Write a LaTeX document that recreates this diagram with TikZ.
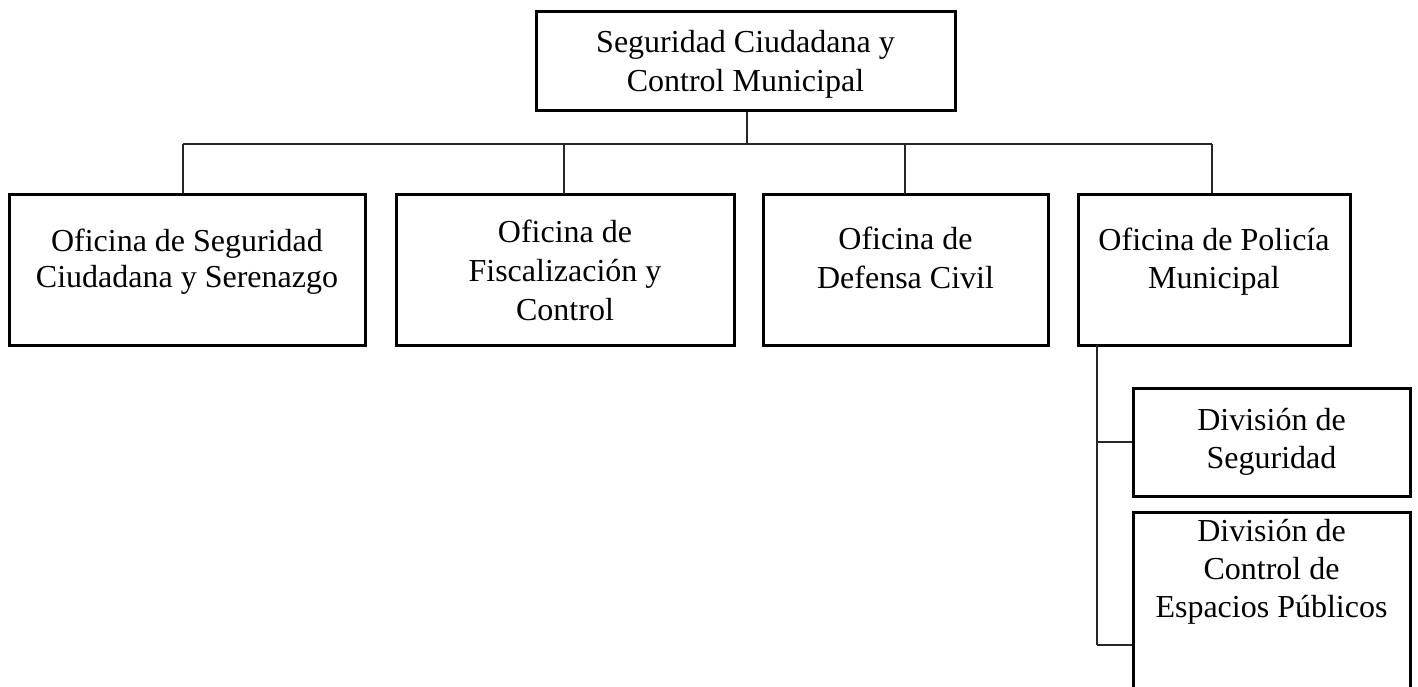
\documentclass[tikz,border=0pt]{standalone}
\usepackage{fontspec}
\setmainfont{Liberation Serif}
\begin{document}
\begin{tikzpicture}[x=0.5pt,y=-0.5pt,
  orgbox/.style={draw=black,line width=1.5pt,inner sep=0pt,minimum width=#1},
  orgtxt/.style={anchor=north,inner sep=0pt,align=center,font=\fontsize{16}{19.5}\selectfont},
  link/.style={draw=black!85,line width=0.8pt}]
\useasboundingbox (0,0) rectangle (1418,686);
\clip (0,0) rectangle (1418,686);
\fill[white] (0,0) rectangle (1418,686);
% boxes
\node[orgbox=209.5pt,minimum height=49.5pt] (T) at (745.5,60.5) {};
\node[orgbox=178pt,minimum height=75.5pt] (B1) at (187,269.5) {};
\node[orgbox=169pt,minimum height=75.5pt] (B2) at (565,269.5) {};
\node[orgbox=142.5pt,minimum height=75.5pt] (B3) at (905.5,269.5) {};
\node[orgbox=136pt,minimum height=75.5pt] (B4) at (1214,269.5) {};
\node[orgbox=138.5pt,minimum height=54pt] (D1) at (1271.5,442) {};
\node[orgbox=138.5pt,minimum height=100pt] (D2) at (1271.5,612) {};
% texts
\node[orgtxt] (tT) at ([yshift=-9.5pt]T.north) {\rule{0pt}{12pt}Seguridad Ciudadana y\\Control Municipal};
\node[orgtxt,font=\fontsize{16}{17.75}\selectfont] (t1) at ([yshift=-17.5pt]B1.north) {\rule{0pt}{12pt}Oficina de Seguridad\\Ciudadana y Serenazgo};
\node[orgtxt,font=\fontsize{16}{19.5}\selectfont] (t2) at ([yshift=-13pt]B2.north) {\rule{0pt}{12pt}Oficina de\\Fiscalización y\\Control};
\node[orgtxt] (t3) at ([yshift=-16.5pt]B3.north) {\rule{0pt}{12pt}Oficina de\\Defensa Civil};
\node[orgtxt,font=\fontsize{16}{19}\selectfont] (t4) at ([yshift=-17pt]B4.north) {\rule{0pt}{12pt}Oficina de Policía\\Municipal};
\node[orgtxt,font=\fontsize{16}{19}\selectfont] (tD1) at ([yshift=-10pt]D1.north) {\rule{0pt}{12pt}División de\\Seguridad};
\node[orgtxt,font=\fontsize{16}{19}\selectfont] (tD2) at ([yshift=-3.5pt]D2.north) {\rule{0pt}{12pt}División de\\Control de\\Espacios Públicos};
% connectors
\coordinate (bus) at (747,144);
\coordinate (busL) at (183,144);
\coordinate (busR) at (1212,144);
\draw[link] ([xshift=0.75pt]T.south) -- (bus);
\draw[link] (busL) -- (busR);
\draw[link] (busL) -- (busL |- B1.north);
\draw[link] (564,144) -- (564,194);
\draw[link] (905,144) -- (905,194);
\draw[link] (busR) -- (busR |- B4.north);
\coordinate (sub) at (1097,345);
\coordinate (subE) at (1097,645);
\draw[link] (sub) -- (subE);
\draw[link] (sub |- D1.west) -- (D1.west);
\draw[link] (subE) -- (subE -| D2.west);
\end{tikzpicture}
\end{document}
